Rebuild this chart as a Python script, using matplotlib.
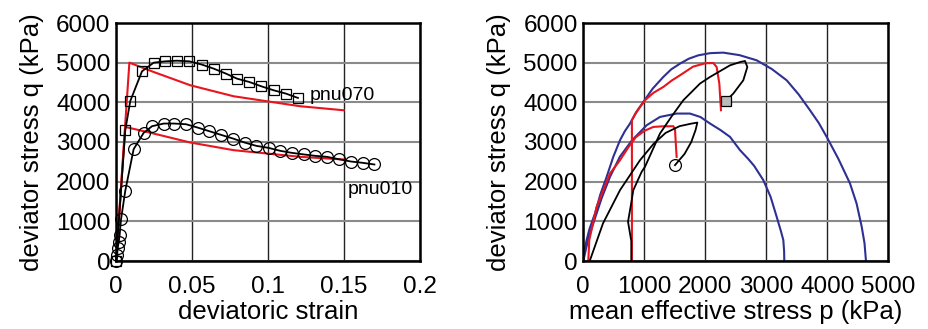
import numpy as np
import matplotlib.pyplot as plt

plt.rcParams['font.family'] = ['Liberation Sans', 'DejaVu Sans']

# ---- left panel: q vs deviatoric strain ----
sq_strain = [0.0, 0.0061, 0.0094, 0.0171, 0.0248, 0.0325, 0.0401, 0.0482, 0.0566,
             0.0643, 0.0724, 0.0796, 0.0877, 0.0956, 0.1037, 0.1118, 0.1197]
sq_q = [0, 3297, 4035, 4782, 5000, 5034, 5050, 5034, 4950,
        4849, 4723, 4597, 4513, 4404, 4304, 4220, 4111]

ci_strain = [0.0, 0.0007, 0.0011, 0.0018, 0.0024, 0.0033, 0.0061, 0.0116, 0.0182,
             0.0237, 0.0314, 0.0384, 0.0461, 0.0537, 0.0614, 0.0691, 0.0770, 0.0846,
             0.0923, 0.1004, 0.1081, 0.1158, 0.1239, 0.1311, 0.1388, 0.1465, 0.1546,
             0.1623, 0.1700]
ci_q = [0, 151, 319, 487, 654, 1049, 1770, 2819, 3230,
        3398, 3465, 3465, 3448, 3364, 3272, 3180, 3087, 2987,
        2903, 2852, 2777, 2726, 2685, 2651, 2626, 2567, 2508,
        2475, 2433]

red70_strain = [0.0, 0.0088, 0.0248, 0.0489, 0.0774, 0.0993, 0.1213, 0.1498]
red70_q = [0, 5000, 4765, 4430, 4153, 4027, 3901, 3800]
red10_strain = [0.0, 0.0061, 0.0248, 0.0489, 0.0774, 0.0993, 0.1213, 0.1498]
red10_q = [0, 3380, 3213, 2987, 2794, 2710, 2626, 2559]

# ---- right panel: q vs p ----
blue_big_p = [0, 20, 55, 100, 192, 280, 383, 490, 602, 680, 766, 870, 984, 1140,
              1311, 1440, 1585, 1730, 1885, 2080, 2295, 2560, 2843, 3090, 3334,
              3530, 3716, 3860, 3990, 4180, 4372, 4480, 4564, 4610, 4634]
blue_big_q = [0, 300, 528, 800, 1200, 1680, 2122, 2620, 3046, 3270, 3466, 3760,
              4010, 4350, 4639, 4830, 4976, 5100, 5185, 5240, 5253, 5190, 5059,
              4840, 4556, 4200, 3801, 3480, 3129, 2580, 1956, 1450, 863, 450, 0]
blue_small_p = [0, 28, 80, 164, 300, 438, 600, 800, 1039, 1257, 1531, 1749, 1920,
                2077, 2250, 2405, 2569, 2700, 2800, 2951, 3070, 3170, 3240, 3279,
                3292, 3295]
blue_small_q = [0, 193, 550, 949, 1580, 2122, 2630, 3046, 3423, 3632, 3717, 3717,
                3630, 3466, 3300, 3129, 2794, 2580, 2400, 2039, 1620, 1115, 750,
                528, 250, 0]

red_big_p = [797, 797, 797, 850, 930, 1011, 1150, 1311, 1450, 1585, 1800, 2000,
             2131, 2186, 2230, 2257]
red_big_q = [0, 2000, 3549, 3700, 3880, 4052, 4240, 4387, 4550, 4682, 4900, 4985,
             4992, 4891, 4473, 3801]
red_small_p = [82, 98, 219, 438, 602, 740, 860, 1000, 1148, 1300, 1475, 1503, 1515,
               1530]
red_small_q = [0, 528, 1367, 2207, 2542, 2870, 3120, 3280, 3380, 3395, 3398, 3330,
               3000, 2625]

blk_big_p = [787, 787, 733, 790, 820, 957, 1011, 1257, 1450, 1639, 1749, 1913,
             2077, 2405, 2580, 2651, 2689, 2623, 2459, 2339]
blk_big_q = [0, 500, 990, 1500, 1787, 2250, 2374, 3214, 3650, 4052, 4221, 4473,
             4639, 4933, 5020, 5042, 4891, 4556, 4221, 4040]
blk_small_p = [105, 323, 602, 930, 1150, 1350, 1580, 1760, 1870, 1840, 1770, 1660,
               1560, 1503]
blk_small_q = [0, 949, 1787, 2542, 2950, 3230, 3400, 3460, 3490, 3300, 3000, 2700,
               2520, 2416]

red = '#e8141e'
blue = '#2e3192'
fs_tick = 17.5
fs_label = 18.5

fig = plt.figure(figsize=(9.29, 3.29), dpi=100)
ax1 = fig.add_axes([116 / 929, 68 / 329, 304 / 929, 238 / 329])
ax2 = fig.add_axes([583.3 / 929, 68 / 329, 305 / 929, 238 / 329])


def style_axes(ax):
    ax.grid(axis='y', color='#8a8a8a', linewidth=1.5)
    ax.grid(axis='x', color='#222222', linewidth=1.0)
    ax.set_axisbelow(True)
    ax.tick_params(axis='both', length=0, labelsize=fs_tick)
    ax.tick_params(axis='x', pad=11)
    ax.tick_params(axis='y', pad=4)
    for s in ax.spines.values():
        s.set_linewidth(1.8)


# left
ax1.plot(red70_strain, red70_q, color=red, linewidth=1.5)
ax1.plot(red10_strain, red10_q, color=red, linewidth=1.5)
ax1.plot(sq_strain, sq_q, color='black', linewidth=1.3, marker='s', markersize=7,
         markerfacecolor='none', markeredgewidth=0.9, clip_on=False)
ax1.plot(ci_strain, ci_q, color='black', linewidth=1.3, marker='o', markersize=8.5,
         markerfacecolor='none', markeredgewidth=0.9, clip_on=False)
ax1.text(0.1276, 4160, 'pnu070', fontsize=14, va='center', ha='left')
ax1.text(0.1526, 1790, 'pnu010', fontsize=14, va='center', ha='left')
ax1.set_xlim(0, 0.2)
ax1.set_ylim(0, 6000)
ax1.set_xticks([0, 0.05, 0.1, 0.15, 0.2])
ax1.set_xticklabels(['0', '0.05', '0.1', '0.15', '0.2'])
ax1.set_yticks(np.arange(0, 6001, 1000))
ax1.set_xlabel('deviatoric strain', fontsize=fs_label, labelpad=1)
ax1.set_ylabel('deviator stress q (kPa)', fontsize=fs_label, labelpad=9)
style_axes(ax1)

# right
ax2.plot(blue_big_p, blue_big_q, color=blue, linewidth=1.5)
ax2.plot(blue_small_p, blue_small_q, color=blue, linewidth=1.5)
ax2.plot(red_big_p, red_big_q, color=red, linewidth=1.5)
ax2.plot(red_small_p, red_small_q, color=red, linewidth=1.5)
ax2.plot(blk_big_p, blk_big_q, color='black', linewidth=1.3)
ax2.plot(blk_small_p, blk_small_q, color='black', linewidth=1.3)
ax2.plot(blk_big_p[-1], blk_big_q[-1], marker='s', markersize=7, color='black',
         markerfacecolor='#bbbbbb', markeredgewidth=0.9)
ax2.plot(blk_small_p[-1], blk_small_q[-1], marker='o', markersize=8.5, color='black',
         markerfacecolor='none', markeredgewidth=0.9)
ax2.set_xlim(0, 5000)
ax2.set_ylim(0, 6000)
ax2.set_xticks(np.arange(0, 5001, 1000))
ax2.set_yticks(np.arange(0, 6001, 1000))
ax2.set_xlabel('mean effective stress p (kPa)', fontsize=fs_label, labelpad=1)
ax2.set_ylabel('deviator stress q (kPa)', fontsize=fs_label, labelpad=9)
style_axes(ax2)

plt.savefig('out.png', dpi=100)
